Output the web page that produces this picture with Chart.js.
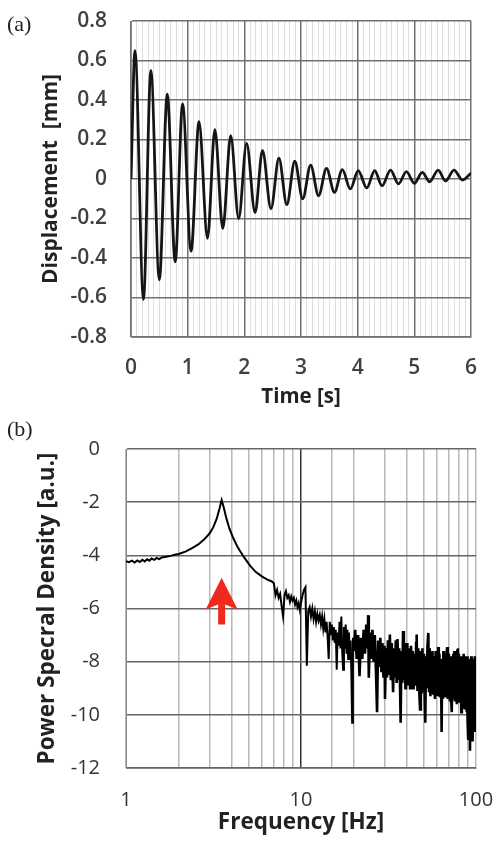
<!DOCTYPE html>
<html lang="en">
<head>
  <meta charset="UTF-8">
  <title>Displacement and PSD</title>
  <script src="https://cdn.jsdelivr.net/npm/chart.js"></script>
  <style>
    body { margin: 0; background: #fff; }
    #wrap { position: relative; width: 499px; height: 843px; }
    canvas { position: absolute; left: 0; }
    #dispChart { top: 0; }
    #psdChart { top: 415px; }
    .panel { position: absolute; left: 7px; font-family: 'Liberation Serif', serif; font-size: 22px; line-height: 1; color: #222; }
  </style>
</head>
<body>
<div id="wrap">
  <canvas id="dispChart" width="499" height="415"></canvas>
  <canvas id="psdChart" width="499" height="428"></canvas>
  <div class="panel" style="top:13px">(a)</div>
  <div class="panel" style="top:418px">(b)</div>
</div>

<script>
  // (a) peaks and troughs of the decaying oscillation
  var timeS = [0, 0.07, 0.22, 0.35, 0.50, 0.64, 0.78, 0.91, 1.06, 1.20, 1.35, 1.48, 1.62, 1.76, 1.90,
    2.04, 2.19, 2.32, 2.47, 2.61, 2.75, 2.89, 3.03, 3.17, 3.31, 3.45, 3.59, 3.73, 3.87, 4.01,
    4.16, 4.30, 4.43, 4.58, 4.72, 4.86, 5.00, 5.14, 5.27, 5.42, 5.55, 5.70, 5.85, 6.00];
  var dispMm = [0, 0.65, -0.61, 0.55, -0.51, 0.43, -0.42, 0.38, -0.365, 0.29, -0.30, 0.25, -0.25, 0.22, -0.20,
    0.18, -0.17, 0.145, -0.15, 0.105, -0.13, 0.09, -0.10, 0.07, -0.085, 0.054, -0.067, 0.047, -0.05, 0.042,
    -0.045, 0.042, -0.034, 0.045, -0.025, 0.037, -0.022, 0.034, -0.014, 0.045, -0.01, 0.045, -0.005, 0.03];

  // (b) power spectral density (log)
  var freqHz = [
    1.00, 1.04, 1.08, 1.12, 1.16, 1.20, 1.24, 1.28, 1.32, 1.36,
    1.40, 1.45, 1.50, 1.55, 1.60, 1.70, 1.80, 1.90, 2.00, 2.20,
    2.40, 2.60, 2.80, 3.00, 3.15, 3.30, 3.42, 3.52, 3.62, 3.75,
    3.90, 4.10, 4.35, 4.70, 5.10, 5.50, 6.00, 6.50, 6.80, 7.00,
    7.15, 7.30, 7.45, 7.60, 7.75, 7.90, 8.05, 8.20, 8.35, 8.50,
    8.65, 8.80, 8.95, 9.10, 9.25, 9.40, 9.55, 9.70, 9.85, 10.0,
    10.2, 10.4, 10.6, 10.8, 11.0, 11.2, 11.4, 11.6, 11.8, 12.0,
    12.2, 12.4, 12.6, 12.8, 13.0, 13.2, 13.4, 13.6, 13.8, 14.0,
    14.2, 14.4, 14.6, 14.8, 15.0, 15.2, 15.4, 15.6, 15.8, 16.0,
    16.2, 16.4, 16.6, 16.8, 17.0, 17.2, 17.4, 17.6, 17.8, 18.0,
    18.2, 18.4, 18.6, 18.8, 19.0, 19.2, 19.4, 19.6, 19.8, 20.0,
    20.4, 20.8, 21.2, 21.6, 22.0, 22.4, 22.8, 23.2, 23.6, 24.0,
    24.2, 24.4, 24.8, 25.2, 25.6, 26.0, 26.4, 26.8, 27.2, 27.6,
    28.0, 28.4, 28.8, 29.2, 29.6, 30.0, 30.2, 30.6, 31.0, 31.4,
    31.8, 32.2, 32.6, 33.0, 33.6, 34.0, 34.4, 34.8, 35.2, 35.6,
    36.0, 36.4, 36.8, 37.1, 37.5, 37.9, 38.3, 38.7, 39.1, 39.5,
    39.8, 40.0, 40.5, 41.0, 41.5, 42.0, 42.5, 43.0, 43.5, 44.0,
    44.5, 45.0, 45.5, 45.8, 46.3, 46.8, 47.3, 47.9, 48.4, 48.9,
    49.4, 49.9, 50.4, 50.9, 51.3, 51.8, 52.3, 52.8, 53.4, 53.9,
    54.4, 54.9, 55.4, 55.9, 56.4, 56.9, 57.4, 57.9, 58.3, 58.8,
    59.3, 59.8, 60.3, 60.8, 61.3, 61.8, 62.3, 62.8, 63.3, 63.6,
    64.1, 64.6, 65.1, 65.6, 66.1, 66.6, 67.1, 67.6, 68.1, 68.5,
    69.0, 69.5, 70.0, 70.5, 71.0, 71.5, 72.0, 72.7, 73.2, 73.7,
    74.2, 74.7, 75.2, 75.7, 76.2, 76.7, 77.2, 77.7, 78.2, 78.8,
    79.3, 79.8, 80.3, 80.8, 81.3, 81.8, 82.5, 83.0, 83.5, 84.0,
    84.5, 85.0, 85.5, 86.0, 86.5, 87.0, 87.5, 88.0, 88.5, 89.0,
    89.5, 90.2, 90.7, 91.2, 91.7, 92.4, 92.9, 93.4, 93.9, 94.4,
    94.9, 95.4, 95.9, 96.4, 96.9, 97.4, 97.9, 98.4, 98.9, 99.4,
    100.0];
  var psdLog = [
    -4.22, -4.26, -4.20, -4.27, -4.19, -4.25, -4.17, -4.23, -4.15, -4.20,
    -4.12, -4.17, -4.10, -4.14, -4.08, -4.05, -4.02, -3.98, -3.95, -3.85,
    -3.72, -3.58, -3.40, -3.18, -2.95, -2.62, -2.25, -1.92, -2.20, -2.62,
    -3.00, -3.35, -3.70, -4.05, -4.38, -4.62, -4.80, -4.93, -4.98, -5.05,
    -5.5, -5.3, -5.6, -5.45, -5.9, -6.3, -5.5, -5.35, -5.6, -5.5,
    -5.75, -5.55, -5.7, -5.6, -5.85, -5.7, -5.95, -5.8, -6.05, -5.8,
    -5.5, -5.3, -5.2, -8.15, -6.1, -5.95, -6.3, -6.0, -6.4, -6.1,
    -6.5, -6.2, -6.45, -6.25, -6.6, -6.3, -6.75, -6.4, -6.9, -6.5,
    -7.1, -7.9, -6.5, -7.0, -6.6, -7.2, -6.7, -7.3, -6.8, -8.3,
    -6.9, -7.4, -6.5, -7.5, -6.3, -7.6, -8.3, -6.7, -7.5, -6.6,
    -7.7, -6.8, -7.9, -6.9, -7.8, -7.2, -8.4, -10.3, -7.1, -7.6,
    -6.8, -7.9, -7.0, -8.55, -7.1, -7.9, -6.8, -7.7, -6.6, -7.5,
    -6.25, -8.6, -6.9, -7.9, -6.8, -8.0, -7.0, -8.3, -9.9, -7.2,
    -8.2, -7.1, -8.4, -7.3, -8.6, -7.4, -9.4, -7.5, -8.6, -7.2,
    -8.5, -6.98, -8.7, -7.3, -9.15, -7.5, -8.6, -7.2, -8.8, -7.15,
    -8.7, -7.5, -8.9, -10.3, -7.6, -8.8, -6.85, -8.7, -7.4, -9.0,
    -7.3, -8.3, -7.3, -8.9, -7.5, -9.0, -7.4, -8.8, -7.6, -9.05,
    -7.7, -8.9, -7.3, -6.98, -9.1, -7.5, -9.0, -9.8, -7.6, -9.2,
    -7.5, -9.1, -7.7, -9.3, -10.3, -7.8, -9.0, -7.4, -6.92, -9.1,
    -7.5, -9.3, -7.7, -9.0, -7.6, -9.2, -7.8, -9.1, -9.4, -7.6,
    -9.2, -7.7, -9.3, -7.45, -9.1, -7.7, -9.3, -7.9, -9.2, -10.65,
    -7.9, -9.4, -7.6, -9.2, -7.8, -9.3, -7.7, -9.1, -7.6, -7.45,
    -9.4, -7.7, -9.2, -7.9, -9.5, -7.8, -9.3, -9.9, -7.8, -9.4,
    -7.7, -9.2, -7.6, -9.5, -7.8, -9.3, -7.7, -9.6, -7.6, -7.5,
    -9.4, -7.7, -9.5, -7.8, -9.3, -7.9, -9.9, -7.8, -9.5, -7.9,
    -9.7, -7.7, -9.4, -7.8, -9.8, -7.9, -9.5, -8.0, -9.9, -7.8,
    -10.2, -10.9, -7.9, -9.6, -8.1, -11.35, -7.9, -9.8, -7.8, -10.1,
    -8.0, -9.7, -11.0, -7.9, -10.4, -8.0, -9.9, -7.8, -10.6, -8.1,
    -9.3];

  // red arrow marking the resonance peak
  var arrowFreq = 3.52, arrowTip = -4.84, arrowNeck = -6.04, arrowTail = -6.6;

  function isWhole(v) { return Math.abs(v - Math.round(v)) < 1e-6; }
  // keep the chart area where the axes say, without extra label padding
  function fixWidth(w) {
    return function (s) { s.width = w; s.paddingTop = 0; s.paddingBottom = 0; };
  }
  function fixHeight(h) {
    return function (s) { s.height = h; s.paddingLeft = 0; s.paddingRight = 0; };
  }

  new Chart(document.getElementById('dispChart').getContext('2d'), {
    type: 'line',
    data: {
      datasets: [{
        data: timeS.map(function (t, i) { return { x: t, y: dispMm[i] }; }),
        borderColor: '#151515',
        borderWidth: 2.8,
        pointRadius: 0,
        cubicInterpolationMode: 'monotone',
        fill: false
      }]
    },
    options: {
      responsive: false,
      animation: false,
      layout: { padding: { top: 21, right: 28, left: 0, bottom: 0 } },
      plugins: { legend: { display: false }, tooltip: { enabled: false } },
      scales: {
        x: {
          type: 'linear', min: 0, max: 6,
          afterFit: fixHeight(78),
          border: { color: '#888' },
          grid: {
            drawTicks: false,
            color: function (c) { return isWhole(c.tick.value) ? '#707070' : '#dedede'; },
            lineWidth: function (c) { return isWhole(c.tick.value) ? 1.5 : 1; }
          },
          ticks: {
            stepSize: 0.1, autoSkip: false, maxRotation: 0, maxTicksLimit: 100,
            padding: 18, color: '#404040', font: { family: 'Open Sans', size: 21, weight: '600' },
            callback: function (v) { return isWhole(v) ? String(Math.round(v)) : ''; }
          },
          title: { display: true, text: 'Time [s]', color: '#222', font: { family: 'Open Sans', size: 20.5, weight: 'bold' }, padding: { top: 0, bottom: 6 } }
        },
        y: {
          min: -0.8, max: 0.8,
          afterFit: fixWidth(131),
          border: { color: '#888' },
          grid: { drawTicks: false, color: '#707070', lineWidth: 1.5 },
          ticks: { stepSize: 0.2, padding: 24, color: '#404040', font: { family: 'Open Sans', size: 21, weight: '600' } },
          title: { display: true, text: 'Displacement  [mm]', color: '#222', font: { family: 'Open Sans', size: 21, weight: 'bold' }, padding: { top: 38, bottom: 0 } }
        }
      }
    }
  });

  var arrowPlugin = {
    id: 'peakArrow',
    afterDatasetsDraw: function (chart) {
      var ctx = chart.ctx, x = chart.scales.x, y = chart.scales.y;
      var cx = x.getPixelForValue(arrowFreq);
      var tip = y.getPixelForValue(arrowTip);
      var neck = y.getPixelForValue(arrowNeck);
      var tail = y.getPixelForValue(arrowTail);
      ctx.save();
      ctx.fillStyle = '#ee2a1c';
      ctx.beginPath();
      ctx.moveTo(cx, tip);
      ctx.lineTo(cx + 16, neck);
      ctx.lineTo(cx + 3.5, neck - 5);
      ctx.lineTo(cx + 3.5, tail);
      ctx.lineTo(cx - 3.5, tail);
      ctx.lineTo(cx - 3.5, neck - 5);
      ctx.lineTo(cx - 16, neck);
      ctx.closePath();
      ctx.fill();
      ctx.restore();
    }
  };

  new Chart(document.getElementById('psdChart').getContext('2d'), {
    type: 'line',
    data: {
      datasets: [{
        data: freqHz.map(function (f, i) { return { x: f, y: psdLog[i] }; }),
        borderColor: '#000',
        borderWidth: 2,
        pointRadius: 0,
        tension: 0,
        fill: false,
        // the noisy high-frequency part reads as a thicker, denser band
        segment: {
          borderWidth: function (c) { return c.p0.parsed.x >= 20 ? 2.6 : 2; }
        }
      }]
    },
    plugins: [arrowPlugin],
    options: {
      responsive: false,
      animation: false,
      layout: { padding: { top: 34, right: 23, left: 0, bottom: 0 } },
      plugins: { legend: { display: false }, tooltip: { enabled: false } },
      scales: {
        x: {
          type: 'logarithmic', min: 1, max: 100,
          afterFit: fixHeight(75),
          border: { color: '#888' },
          grid: {
            drawTicks: false,
            color: function (c) { return c.tick.value === 10 ? '#333' : '#b8b8b8'; },
            lineWidth: 1.5
          },
          ticks: {
            autoSkip: false, maxRotation: 0, padding: 20, color: '#333',
            font: { family: 'Open Sans', size: 20 },
            callback: function (v) { return (v === 1 || v === 10 || v === 100) ? String(v) : ''; }
          },
          title: { display: true, text: 'Frequency [Hz]', color: '#222', font: { family: 'Open Sans', size: 22.5, weight: 'bold' }, padding: { top: 0, bottom: 7 } }
        },
        y: {
          min: -12, max: 0,
          afterFit: fixWidth(126),
          border: { color: '#888' },
          grid: { drawTicks: false, color: '#666', lineWidth: 1.5 },
          ticks: { stepSize: 2, padding: 26, color: '#333', font: { family: 'Open Sans', size: 20 } },
          title: { display: true, text: 'Power Specral Density [a.u.]', color: '#222', font: { family: 'Open Sans', size: 22.5, weight: 'bold' }, padding: { top: 34, bottom: 0 } }
        }
      }
    }
  });
</script>
</body>
</html>
